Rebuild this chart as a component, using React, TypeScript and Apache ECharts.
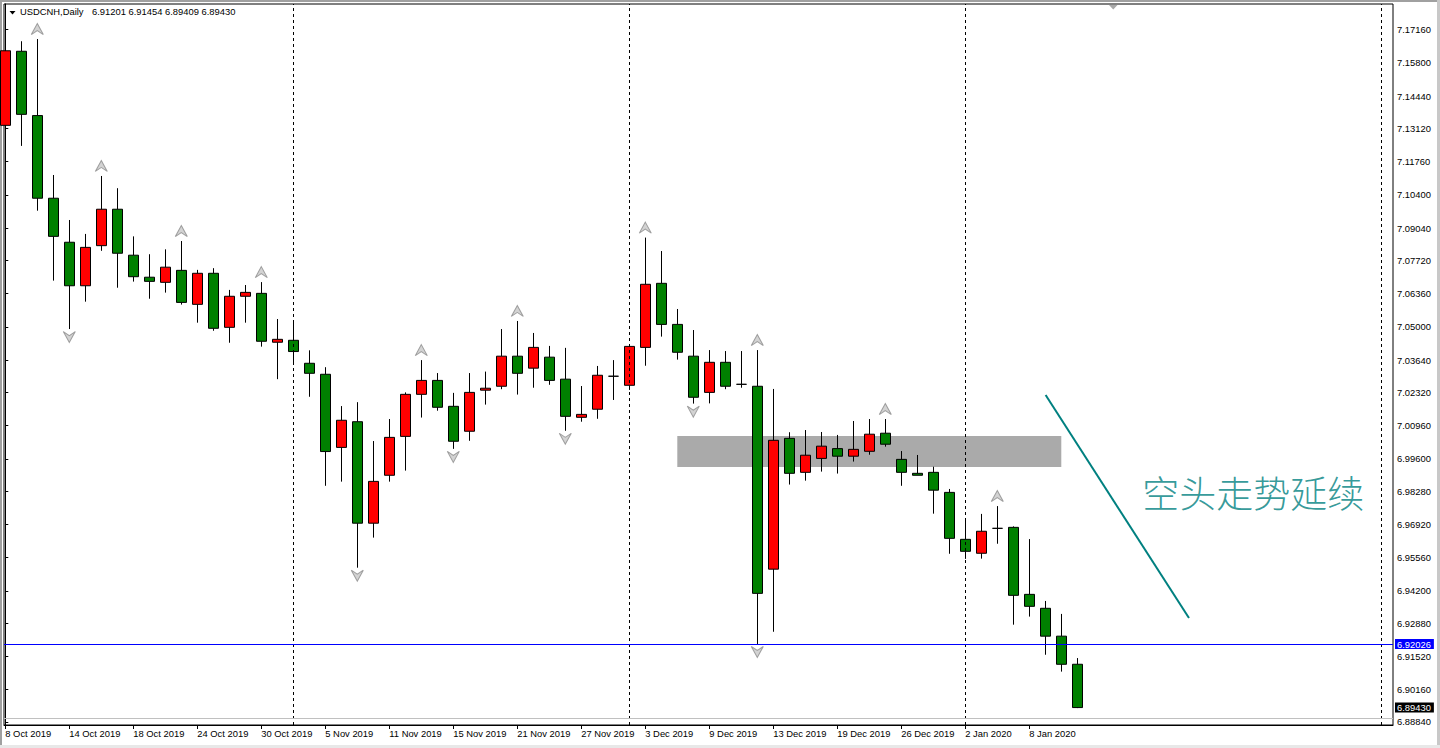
import React, { useEffect, useRef } from "react";
import * as echarts from "echarts";

const barDates = [
  "8 Oct 2019", "9 Oct 2019", "10 Oct 2019", "11 Oct 2019", "14 Oct 2019", "15 Oct 2019", "16 Oct 2019", "17 Oct 2019",
  "18 Oct 2019", "21 Oct 2019", "22 Oct 2019", "23 Oct 2019", "24 Oct 2019", "25 Oct 2019", "28 Oct 2019", "29 Oct 2019",
  "30 Oct 2019", "31 Oct 2019", "1 Nov 2019", "4 Nov 2019", "5 Nov 2019", "6 Nov 2019", "7 Nov 2019", "8 Nov 2019",
  "11 Nov 2019", "12 Nov 2019", "13 Nov 2019", "14 Nov 2019", "15 Nov 2019", "18 Nov 2019", "19 Nov 2019", "20 Nov 2019",
  "21 Nov 2019", "22 Nov 2019", "25 Nov 2019", "26 Nov 2019", "27 Nov 2019", "28 Nov 2019", "29 Nov 2019", "2 Dec 2019",
  "3 Dec 2019", "4 Dec 2019", "5 Dec 2019", "6 Dec 2019", "9 Dec 2019", "10 Dec 2019", "11 Dec 2019", "12 Dec 2019",
  "13 Dec 2019", "16 Dec 2019", "17 Dec 2019", "18 Dec 2019", "19 Dec 2019", "20 Dec 2019", "23 Dec 2019", "24 Dec 2019",
  "26 Dec 2019", "27 Dec 2019", "30 Dec 2019", "31 Dec 2019", "2 Jan 2020", "3 Jan 2020", "6 Jan 2020", "7 Jan 2020",
  "8 Jan 2020", "9 Jan 2020", "10 Jan 2020", "13 Jan 2020",
];

const opens = [
  7.1324, 7.1627, 7.1364, 7.1026, 7.0846, 7.0668, 7.0832, 7.0981, 7.0793, 7.0703, 7.0682, 7.0731, 7.0592, 7.0719, 7.0498, 7.0625,
  7.0637, 7.0437, 7.0445, 7.0351, 7.0306, 7.0007, 7.0112, 6.9697, 6.9893, 7.0052, 7.0224, 7.0281, 7.0175, 7.0073, 7.0241, 7.0257,
  7.0380, 7.0331, 7.0376, 7.0286, 7.0130, 7.0163, 7.0298, 7.0261, 7.0416, 7.0678, 7.0510, 7.0380, 7.0232, 7.0355, 7.0265, 7.0257,
  6.9509, 7.0044, 6.9905, 6.9962, 7.0002, 6.9971, 6.9991, 7.0065, 6.9958, 6.9901, 6.9905, 6.9823, 6.9631, 6.9574, 6.9676, 6.9680,
  6.9406, 6.9349, 6.9235, 6.91201,
];
const closes = [
  7.1629, 7.1369, 7.1026, 7.0870, 7.0668, 7.0825, 7.0981, 7.0801, 7.0705, 7.0686, 7.0744, 7.0600, 7.0719, 7.0494, 7.0625, 7.0641,
  7.0441, 7.0449, 7.0399, 7.0310, 6.9990, 7.0118, 6.9697, 6.9868, 7.0048, 7.0224, 7.0281, 7.0171, 7.0032, 7.0232, 7.0249, 7.0380,
  7.0310, 7.0416, 7.0281, 7.0134, 7.0142, 7.0302, 7.0298, 7.0420, 7.0674, 7.0510, 7.0396, 7.0212, 7.0355, 7.0257, 7.0265, 6.9410,
  7.0036, 6.9901, 6.9975, 7.0012, 6.9971, 6.9999, 7.0061, 7.0020, 6.9905, 6.9893, 6.9832, 6.9635, 6.9582, 6.9664, 6.9676, 6.9402,
  6.9357, 6.9235, 6.9120, 6.8943,
];
const lows = [
  7.1175, 7.1240, 7.0975, 7.0689, 7.0491, 7.0603, 7.0811, 7.0660, 7.0685, 7.0615, 7.0640, 7.0591, 7.0517, 7.0484, 7.0435, 7.0517,
  7.0419, 7.0286, 7.0353, 7.0214, 6.9850, 6.9867, 6.9515, 6.9638, 6.9867, 6.9912, 7.0129, 7.0157, 7.0001, 7.0034, 7.0182, 7.0245,
  7.0223, 7.0251, 7.0263, 7.0075, 7.0112, 7.0124, 7.0201, 7.0242, 7.0341, 7.0460, 7.0366, 7.0186, 7.0187, 7.0245, 7.0251, 6.9203,
  6.9253, 6.9855, 6.9871, 6.9908, 6.9900, 6.9949, 6.9977, 7.0010, 6.9850, 6.9893, 6.9736, 6.9572, 6.9551, 6.9552, 6.9613, 6.9282,
  6.9315, 6.9159, 6.9090, 6.89409,
];
const highs = [
  7.1662, 7.1668, 7.1677, 7.1121, 7.0937, 7.0880, 7.1117, 7.1067, 7.0870, 7.0797, 7.0817, 7.0851, 7.0733, 7.0740, 7.0651, 7.0671,
  7.0683, 7.0532, 7.0519, 7.0404, 7.0335, 7.0176, 7.0192, 7.0033, 7.0123, 7.0232, 7.0364, 7.0311, 7.0230, 7.0311, 7.0317, 7.0491,
  7.0524, 7.0475, 7.0422, 7.0414, 7.0258, 7.0340, 7.0364, 7.0421, 7.0865, 7.0810, 7.0573, 7.0487, 7.0405, 7.0401, 7.0401, 7.0405,
  7.0246, 7.0069, 7.0078, 7.0070, 7.0058, 7.0115, 7.0123, 7.0123, 6.9992, 6.9976, 6.9928, 6.9837, 6.9710, 6.9735, 6.9767, 6.9684,
  6.9632, 6.9379, 6.9326, 6.91454,
];

const xTickBars = [0, 4, 8, 12, 16, 20, 24, 28, 32, 36, 40, 44, 48, 52, 56, 60, 64];
const yTickValues = [
  7.1716, 7.158, 7.1444, 7.1312, 7.1176, 7.104, 7.0904, 7.0772, 7.0636, 7.05, 7.0364, 7.0232, 7.0096,
  6.996, 6.9828, 6.9692, 6.9556, 6.942, 6.9288, 6.9152, 6.9016, 6.8884,
];
const separatorBars = [18, 39, 60, 86];
const upFractalBars = [2, 6, 11, 16, 26, 32, 40, 47, 55, 62];
const downFractalBars = [4, 22, 28, 35, 43, 47];
const levelPrice = 6.92026;
const bidPrice = 6.8943;
const zoneBars = [42, 66];
const zonePrices = [7.0054, 6.9927];
const trendBars = [65.02, 73.98];
const trendPrices = [7.0221, 6.9309];
const noteText = "空头走势延续";
const notePoint = [78, 6.9825];
const symbolName = "USDCNH,Daily";

const X_MIN = -0.08125;
const X_MAX = 86.73125;
const Y_MIN = 6.88717;
const Y_MAX = 7.18203;

const FONT = "'Liberation Sans', Arial, sans-serif";
const FS = 9.4;

const UP_ARROW = "path://M6,0 L12,11 L6,7 L0,11 Z";
const DOWN_ARROW = "path://M0,0 L6,4 L12,0 L6,11 Z";

function priceTagAxis(value: number, bg: string) {
  return {
    type: "value",
    position: "right",
    min: Y_MIN,
    max: Y_MAX,
    axisLine: { show: false },
    axisTick: { show: false },
    splitLine: { show: false },
    axisLabel: {
      show: true,
      customValues: [value],
      formatter: (v: number) => v.toFixed(5),
      margin: 2,
      fontSize: FS,
      fontFamily: FONT,
      color: "#fff",
      backgroundColor: bg,
      padding: [1, 3, 0, 2],
      hideOverlap: false,
    },
  };
}

export default function App() {
  const ref = useRef<HTMLDivElement>(null);

  useEffect(() => {
    if (!ref.current) return;
    const chart = echarts.init(ref.current, undefined, { renderer: "svg" });

    const candleData = opens.map((o, i) => [i, o, closes[i], lows[i], highs[i]]);
    const upFr = upFractalBars.map((b) => [b, highs[b]]);
    const dnFr = downFractalBars.map((b) => [b, lows[b]]);
    const last = opens.length - 1;
    const headerVals = [opens[last], highs[last], lows[last], closes[last]].map((v) => v.toFixed(5)).join(" ");

    const option: any = {
      animation: false,
      backgroundColor: "#ffffff",
      grid: {
        left: 4,
        top: 4,
        right: 47,
        bottom: 23,
        show: true,
        borderColor: "#000",
        borderWidth: 1,
        backgroundColor: "#fff",
      },
      xAxis: {
        type: "value",
        min: X_MIN,
        max: X_MAX,
        axisLine: { show: true, lineStyle: { color: "#000", width: 1 } },
        axisTick: { show: true, customValues: xTickBars, length: 4, lineStyle: { color: "#000" } },
        axisLabel: {
          show: true,
          customValues: xTickBars,
          formatter: (v: number) => barDates[Math.round(v)] || "",
          align: "left",
          margin: 4,
          fontSize: FS,
          fontFamily: FONT,
          color: "#000",
          hideOverlap: false,
        },
        splitLine: { show: false },
      },
      yAxis: [
        {
          type: "value",
          position: "right",
          min: Y_MIN,
          max: Y_MAX,
          axisLine: { show: true, lineStyle: { color: "#000", width: 1 } },
          axisTick: { show: true, customValues: yTickValues, length: 3, lineStyle: { color: "#000" } },
          axisLabel: {
            show: true,
            customValues: yTickValues,
            formatter: (v: number) => v.toFixed(5),
            margin: 4,
            fontSize: FS,
            fontFamily: FONT,
            color: "#000",
            hideOverlap: false,
          },
          splitLine: { show: false },
        },
        priceTagAxis(levelPrice, "#0000ff"),
        priceTagAxis(bidPrice, "#000000"),
      ],
      series: [
        {
          name: "zone",
          type: "line",
          data: [],
          z: 1,
          silent: true,
          markArea: {
            silent: true,
            itemStyle: { color: "#aaaaaa", opacity: 1 },
            label: { show: false },
            data: [[{ coord: [zoneBars[0], zonePrices[0]] }, { coord: [zoneBars[1], zonePrices[1]] }]],
          },
        },
        {
          name: "separators",
          type: "line",
          data: [],
          z: 2,
          silent: true,
          markLine: {
            silent: true,
            symbol: ["none", "none"],
            label: { show: false },
            lineStyle: { color: "#000", width: 1, type: [3, 3] },
            data: separatorBars.map((b) => ({ xAxis: b })),
          },
        },
        {
          name: "USDCNH",
          type: "candlestick",
          z: 3,
          barWidth: 10,
          data: candleData,
          itemStyle: {
            color: "#ff0000",
            color0: "#008000",
            borderColor: "#000000",
            borderColor0: "#000000",
            borderWidth: 1,
          },
        },
        {
          name: "levels",
          type: "line",
          data: [],
          z: 4,
          silent: true,
          markLine: {
            silent: true,
            symbol: ["none", "none"],
            label: { show: false },
            data: [
              { yAxis: levelPrice, lineStyle: { color: "#0000ff", width: 1, type: "solid" } },
              { yAxis: bidPrice, lineStyle: { color: "#c0c0c0", width: 1, type: "solid" } },
            ],
          },
        },
        {
          name: "trend",
          type: "line",
          z: 5,
          silent: true,
          symbol: "none",
          lineStyle: { color: "#008080", width: 2 },
          data: [
            [trendBars[0], trendPrices[0]],
            [trendBars[1], trendPrices[1]],
          ],
        },
        {
          name: "fractalUp",
          type: "scatter",
          z: 6,
          silent: true,
          symbol: UP_ARROW,
          symbolSize: [12, 11],
          symbolOffset: [0, -10],
          itemStyle: { color: "#c8c8c8", borderColor: "#8c8c8c", borderWidth: 1 },
          data: upFr,
        },
        {
          name: "fractalDown",
          type: "scatter",
          z: 6,
          silent: true,
          symbol: DOWN_ARROW,
          symbolSize: [12, 11],
          symbolOffset: [0, 8],
          itemStyle: { color: "#c8c8c8", borderColor: "#8c8c8c", borderWidth: 1 },
          data: dnFr,
        },
        {
          name: "note",
          type: "scatter",
          z: 7,
          silent: true,
          symbolSize: 0,
          data: [notePoint],
          label: {
            show: true,
            position: "inside",
            formatter: noteText,
            fontSize: 37,
            fontFamily: "'Noto Sans CJK SC', sans-serif",
            fontWeight: 300,
            color: "#008080",
          },
        },
      ],
      graphic: [
        { type: "rect", left: 0, top: 0, shape: { width: 1440, height: 2 }, style: { fill: "#a0a0a0" }, silent: true },
        { type: "rect", left: 0, top: 0, shape: { width: 2, height: 748 }, style: { fill: "#a0a0a0" }, silent: true },
        { type: "rect", left: 1437, top: 0, shape: { width: 3, height: 748 }, style: { fill: "#c8c8c8" }, silent: true },
        { type: "rect", left: 0, top: 745, shape: { width: 1440, height: 3 }, style: { fill: "#e8e8e8" }, silent: true },
        {
          type: "polygon",
          shape: { points: [[9.5, 11], [15.5, 11], [12.5, 14.5]] },
          style: { fill: "#000" },
          silent: true,
        },
        {
          type: "text",
          left: 20,
          top: 7,
          style: { text: symbolName, font: `${FS}px ${FONT}`, fill: "#000" },
          silent: true,
        },
        {
          type: "text",
          left: 92,
          top: 7,
          style: { text: headerVals, font: `${FS}px ${FONT}`, fill: "#000" },
          silent: true,
        },
        {
          type: "polygon",
          shape: { points: [[1109, 5], [1117.5, 5], [1113.25, 9.5]] },
          style: { fill: "#a8a8a8" },
          silent: true,
        },
      ],
    };

    chart.setOption(option);
    return () => {
      chart.dispose();
    };
  }, []);

  return (
    <div
      ref={ref}
      style={{ position: "fixed", left: 0, top: 0, width: 1440, height: 748, background: "#fff" }}
    />
  );
}
